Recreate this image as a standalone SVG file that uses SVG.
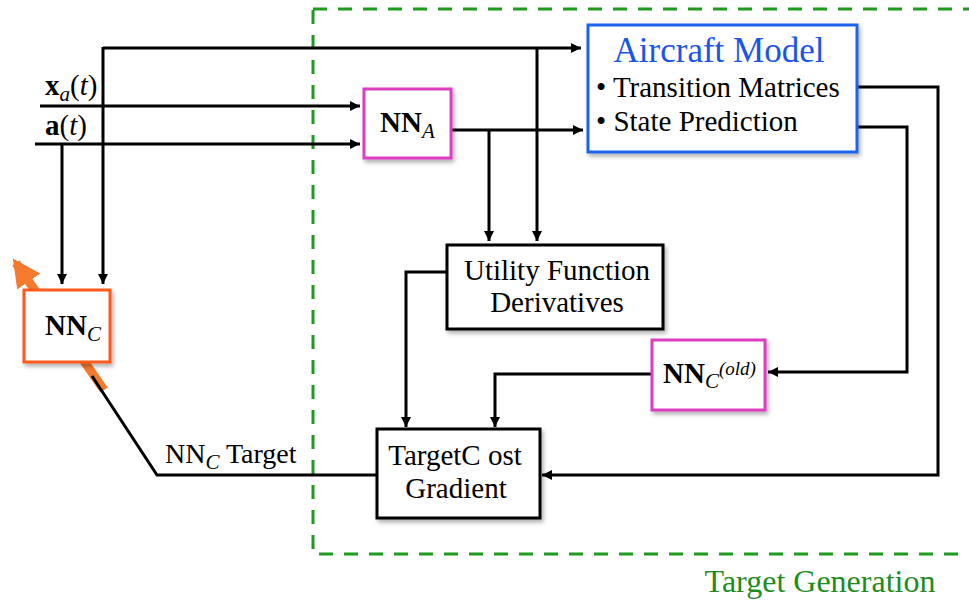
<svg xmlns="http://www.w3.org/2000/svg" width="969" height="603" viewBox="0 0 969 603">
<defs>
<marker id="ah" viewBox="0 0 10 10" refX="10" refY="5" markerWidth="12" markerHeight="10" markerUnits="userSpaceOnUse" orient="auto"><path d="M0,0 L10,5 L0,10 z" fill="#000"/></marker>
<marker id="oh" viewBox="0 0 10 10" refX="8" refY="5" markerWidth="28" markerHeight="30" markerUnits="userSpaceOnUse" orient="auto"><path d="M0,0 L10,5 L0,10 z" fill="#F47A2E"/></marker>
<filter id="sh" x="-10%" y="-10%" width="130%" height="130%"><feDropShadow dx="2" dy="3" stdDeviation="2" flood-color="#000" flood-opacity="0.3"/></filter>
</defs>
<style>
text{font-family:"Liberation Serif","Times New Roman",serif;fill:#000}
.ln{fill:none;stroke:#000;stroke-width:3}
.box{fill:#fff;stroke-width:3;filter:url(#sh)}
.mag{stroke:#DD3EC0}
.blk{stroke:#000}
.it{font-style:italic}
.b{font-weight:bold}
</style>
<rect width="969" height="603" fill="#fff"/>
<rect x="313" y="9" width="700" height="545" fill="none" stroke="#1E9A1E" stroke-width="3" stroke-dasharray="14 11"/>
<text x="820" y="592" font-size="32" text-anchor="middle" style="fill:#1E8C1E">Target Generation</text>

<g id="connectors">
<line x1="104" y1="390" x2="16" y2="263" stroke="#F47A2E" stroke-width="9" marker-end="url(#oh)"/>
<path class="ln" d="M103,48 H581" marker-end="url(#ah)"/>
<path class="ln" d="M103,47 V284" marker-end="url(#ah)"/>
<path class="ln" d="M40,106 H360" marker-end="url(#ah)"/>
<path class="ln" d="M35,144 H360" marker-end="url(#ah)"/>
<path class="ln" d="M62,144 V284" marker-end="url(#ah)"/>
<path class="ln" d="M451,130 H583" marker-end="url(#ah)"/>
<path class="ln" d="M489,130 V241" marker-end="url(#ah)"/>
<path class="ln" d="M537,48 V241" marker-end="url(#ah)"/>
<path class="ln" d="M857,87 H938 V475 H542" marker-end="url(#ah)"/>
<path class="ln" d="M857,127 H907 V372 H768" marker-end="url(#ah)"/>
<path class="ln" d="M652,374 H495 V427" marker-end="url(#ah)"/>
<path class="ln" d="M447,272 H406 V427" marker-end="url(#ah)"/>
<path class="ln" d="M377,475 H157 L92,376"/>
</g>

<g id="nnc">
<rect x="24" y="290" width="86" height="72" class="box" stroke="#FF5A1F"/>
<text x="45" y="335" font-size="29" class="b">NN<tspan class="it" font-weight="normal" font-size="21" dy="6">C</tspan></text>
</g>

<g id="nna">
<rect x="364" y="89" width="87" height="69" class="box mag"/>
<text x="380" y="132" font-size="29" class="b">NN<tspan class="it" font-weight="normal" font-size="21" dy="6">A</tspan></text>
</g>

<g id="aircraft">
<rect x="588" y="25" width="269" height="127" class="box" stroke="#1A62EA"/>
<text x="719" y="62" font-size="35" text-anchor="middle" style="fill:#1A55E8">Aircraft Model</text>
<text x="596" y="97" font-size="29">• Transition Matrices</text>
<text x="596" y="131" font-size="29">• State Prediction</text>
</g>

<g id="utility">
<rect x="447" y="245" width="216" height="84" class="box blk"/>
<text x="557" y="280" font-size="29" text-anchor="middle">Utility Function</text>
<text x="557" y="312" font-size="29" text-anchor="middle">Derivatives</text>
</g>

<g id="nncold">
<rect x="652" y="340" width="113" height="70" class="box mag"/>
<text x="663" y="383" font-size="29" class="b">NN<tspan class="it" font-weight="normal" font-size="21" dy="5">C</tspan><tspan class="it" font-weight="normal" font-size="19" dy="-13">(old)</tspan></text>
</g>

<g id="targetcost">
<rect x="377" y="429" width="163" height="89" class="box blk"/>
<text x="455" y="465" font-size="29" text-anchor="middle">TargetC ost</text>
<text x="456" y="498" font-size="29" text-anchor="middle">Gradient</text>
</g>

<g id="labels">
<text x="45" y="95" font-size="29"><tspan class="b">x</tspan><tspan class="it" font-size="21" dy="6">a</tspan><tspan dy="-6">(</tspan><tspan class="it">t</tspan>)</text>
<text x="45" y="135" font-size="29"><tspan class="b">a</tspan>(<tspan class="it">t</tspan>)</text>
<text x="165" y="463" font-size="28">NN<tspan class="it" font-size="21" dy="6">C</tspan><tspan dy="-6"> Target</tspan></text>
</g>
</svg>
